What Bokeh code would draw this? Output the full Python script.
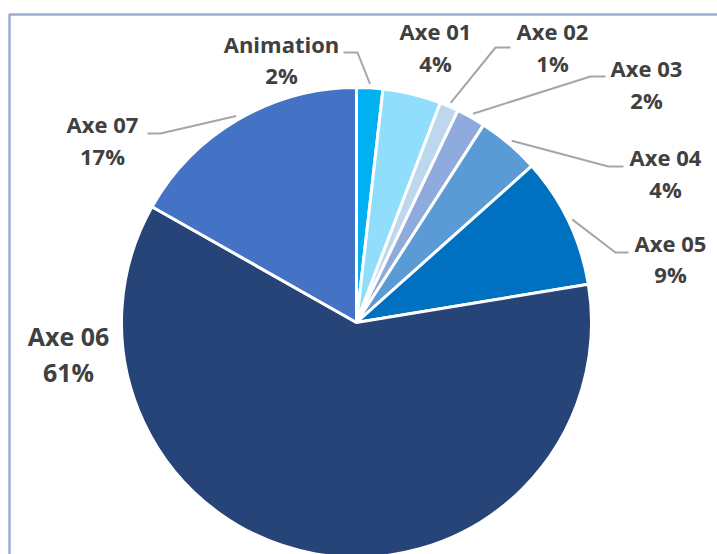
import math
from bokeh.plotting import figure
from bokeh.models import Range1d, ColumnDataSource
from bokeh.core.properties import value
from bokeh.embed import file_html
from bokeh.resources import INLINE

# ---- data ----
categories = ["Animation", "Axe 01", "Axe 02", "Axe 03", "Axe 04", "Axe 05", "Axe 06", "Axe 07"]
shares = [1.8, 4.0, 1.3, 2.0, 4.3, 9.0, 60.8, 16.8]
colors = ["#00B0F0", "#91DEFC", "#BDD7EE", "#8FAADC", "#5B9BD5", "#0070C0", "#264478", "#4472C4"]

# ---- layout (image pixel coordinates) ----
W, H = 717, 554
OX, OY = 0, 0
CX, CY, R = 356, 322, 235
# label anchor (centre x, baseline y of name line), gap to pct line, font size
label_x = [281, 435, 552, 646, 665, 670, 68, 102]
label_y = [43, 30, 30, 67, 156, 242, 335, 123]
label_gap = [31, 32, 32, 32, 32, 31, 36, 32]
label_size = [22, 22, 22, 22, 22, 22, 25, 22]
# leader lines: label-side start point, elbow point (None = no leader)
leader_start = [(343, 52), None, (510, 47), (605, 76), (623, 166), (628, 252), None, (147, 133)]
leader_elbow = [(357, 52), None, (495, 47), (590, 76), (608, 166), (615, 252), None, (160, 133)]
LEADER_R = 239


def Y(py):
    return (OY + H) - py


p = figure(width=W, height=H, output_backend="svg", toolbar_location=None,
           x_range=Range1d(OX, OX + W), y_range=Range1d(0, H),
           min_border=0, outline_line_color=None, background_fill_color="white",
           border_fill_color="white")
p.axis.visible = False
p.grid.visible = False

total = sum(shares)
starts, ends, mids = [], [], []
c = 0.0
for v in shares:
    c0 = c / total
    c += v
    c1 = c / total
    starts.append(math.pi / 2 - 2 * math.pi * c1)
    ends.append(math.pi / 2 - 2 * math.pi * c0)
    mids.append((c0 + c1) / 2)

src = ColumnDataSource(dict(start=starts, end=ends, color=colors, cat=categories))
p.wedge(x=CX, y=Y(CY), radius=R, start_angle="start", end_angle="end",
        fill_color="color", line_color="white", line_width=3, source=src)

# leader lines
for i, m in enumerate(mids):
    if leader_start[i] is None:
        continue
    ang = 2 * math.pi * m
    ex = CX + LEADER_R * math.sin(ang)
    ey = CY - LEADER_R * math.cos(ang)
    xs = [leader_start[i][0], leader_elbow[i][0], ex]
    ys = [Y(leader_start[i][1]), Y(leader_elbow[i][1]), Y(ey)]
    p.line(xs, ys, line_color="#A6A6A6", line_width=2)

# labels
for i, name in enumerate(categories):
    pct = f"{round(shares[i])}%"
    for txt, yy in ((name, label_y[i]), (pct, label_y[i] + label_gap[i])):
        p.text(x=[label_x[i]], y=[Y(yy)], text=[txt], text_align="center",
               text_baseline="alphabetic", text_font=value("Open Sans"),
               text_font_style="bold", text_font_size=f"{label_size[i]}px",
               text_color="#404040")

# chart border (visible top and left edges)
p.line([OX + W, 9, 9], [Y(14), Y(14), 0], line_color="#9AAECD", line_width=2.5)

open("out.html", "w").write(file_html(p, INLINE))
